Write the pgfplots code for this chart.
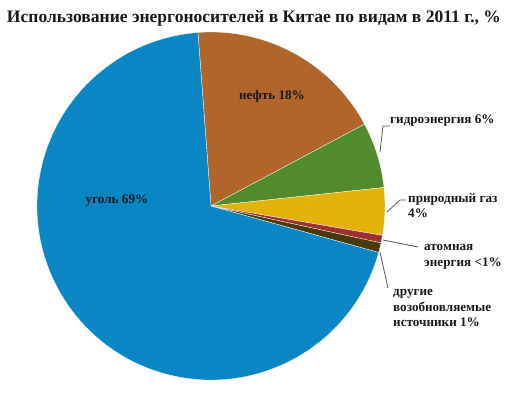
\documentclass[border=0pt]{standalone}
\usepackage{fontspec}
\setmainfont{Liberation Serif}
\usepackage{pgfplots}
\pgfplotsset{compat=1.18}

\definecolor{coalblue}{RGB}{10,134,196}
\definecolor{oilbrown}{RGB}{176,102,42}
\definecolor{hydrogreen}{RGB}{80,140,46}
\definecolor{gasyellow}{RGB}{226,179,10}
\definecolor{nucred}{RGB}{158,48,48}
\definecolor{othbrown}{RGB}{74,58,10}
\definecolor{leader}{RGB}{85,85,85}

% pie slice mark: radius in bp, start at 94.3 deg, clockwise
\pgfdeclareplotmark{pieslice}{%
  \pgfkeys{/pgf/fpu=false}%
  \pgfmathsetmacro\pa{94.3-3.6*\pst}%
  \pgfmathsetmacro\pb{\pa-3.6*\pval}%
  \pgfpathmoveto{\pgfpointorigin}%
  \pgfpathlineto{\pgfpointpolar{\pa}{174bp}}%
  \pgfpatharc{\pa}{\pb}{174bp}%
  \pgfpathclose
  \pgfusepathqfillstroke
}

\pgfplotsset{
  pieslice/.style={scatter, only marks, mark=pieslice,
    visualization depends on={value \thisrow{value}\as\pval},
    visualization depends on={value \thisrow{start}\as\pst},
    scatter/use mapped color={draw=white, fill=#1},
    mark options={line width=0.3pt}},
}
\tikzset{
  lbl/.style={font=\bfseries\fontsize{13.2}{15.5}\selectfont, text=black!90, align=left, inner sep=0pt},
}

\begin{document}
\begin{tikzpicture}
\begin{axis}[
  x=1bp, y=1bp,
  xmin=0, xmax=514, ymin=0, ymax=394,
  hide axis, clip=false,
  set layers, mark layer=axis background,
]
\addplot[draw=none, mark=none] coordinates {(0,0) (514,394)};

\addplot[pieslice=oilbrown] table {
x y value start
211 188 18.4 0
};
\addplot[pieslice=hydrogreen] table {
x y value start
211 188 6.1 18.4
};
\addplot[pieslice=gasyellow] table {
x y value start
211 188 4.4 24.5
};
\addplot[pieslice=nucred] table {
x y value start
211 188 0.7 28.9
};
\addplot[pieslice=othbrown] table {
x y value start
211 188 0.9 29.6
};
\addplot[pieslice=coalblue] table {
x y value start
211 188 69.5 30.5
};

% leader lines
\addplot[leader, line width=0.8pt, mark=none] coordinates {(380,242) (383,268) (390,268)};
\addplot[leader, line width=0.8pt, mark=none] coordinates {(387,182) (400,194) (406,194)};
\addplot[leader, line width=0.8pt, mark=none] coordinates {(383,154) (418,147)};
\addplot[leader, line width=0.8pt, mark=none] coordinates {(380,142) (388,106)};

\node[font=\bfseries\fontsize{17.6}{20}\selectfont, text=black!90] at (axis cs:254,376) {Использование энергоносителей в Китае по видам в 2011 г., \%};
\node[lbl] at (axis cs:117,193) {уголь 69\%};
\node[lbl] at (axis cs:272,298) {нефть 18\%};
\node[lbl, anchor=west] at (axis cs:390,273) {гидроэнергия 6\%};
\node[lbl, anchor=west] at (axis cs:408,188.5) {природный газ\\4\%};
\node[lbl, anchor=west] at (axis cs:424,137) {атомная\\энергия <1\%};
\node[lbl, anchor=west] at (axis cs:393,86) {другие\\возобновляемые\\источники 1\%};
\end{axis}
\end{tikzpicture}
\end{document}
